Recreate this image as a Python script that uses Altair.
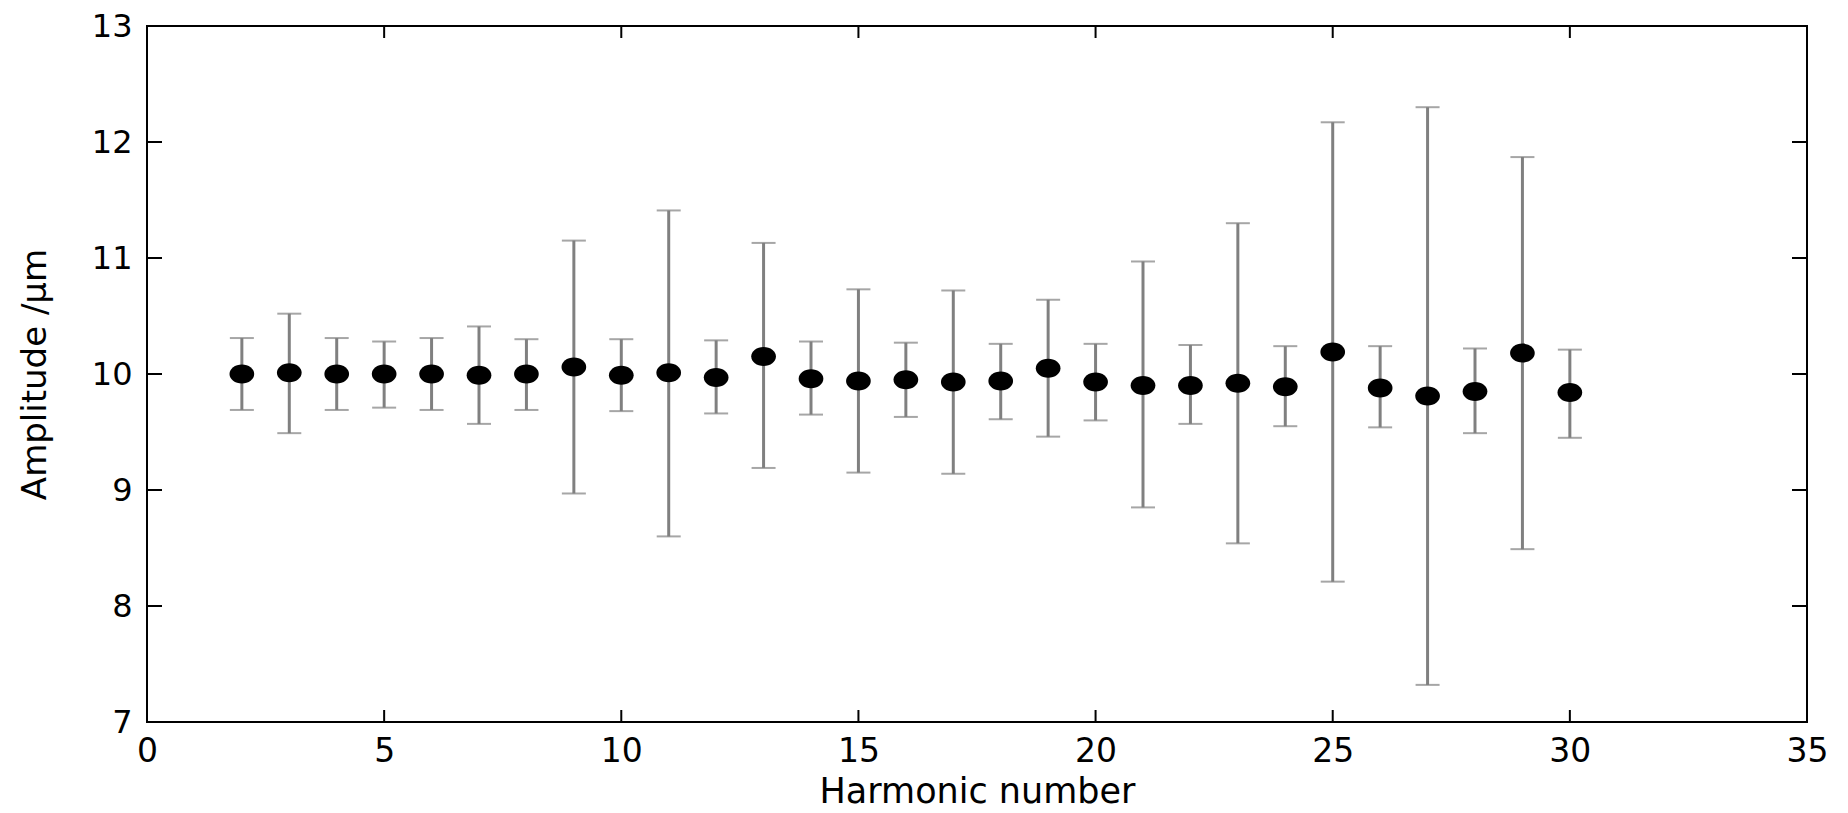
import altair as alt
import pandas as pd

harmonic = list(range(2, 31))
amplitude = [10.00, 10.01, 10.00, 10.00, 10.00, 9.99, 10.00, 10.06, 9.99, 10.01,
             9.97, 10.15, 9.96, 9.94, 9.95, 9.93, 9.94, 10.05, 9.93, 9.90,
             9.90, 9.92, 9.89, 10.19, 9.88, 9.81, 9.85, 10.18, 9.84]
upper = [10.31, 10.52, 10.31, 10.28, 10.31, 10.41, 10.30, 11.15, 10.30, 11.41,
         10.29, 11.13, 10.28, 10.73, 10.27, 10.72, 10.26, 10.64, 10.26, 10.97,
         10.25, 11.30, 10.24, 12.17, 10.24, 12.30, 10.22, 11.87, 10.21]
lower = [9.69, 9.49, 9.69, 9.71, 9.69, 9.57, 9.69, 8.97, 9.68, 8.60,
         9.66, 9.19, 9.65, 9.15, 9.63, 9.14, 9.61, 9.46, 9.60, 8.85,
         9.57, 8.54, 9.55, 8.21, 9.54, 7.32, 9.49, 8.49, 9.45]
x_ticks = [0, 5, 10, 15, 20, 25, 30, 35]
y_ticks = [7, 8, 9, 10, 11, 12, 13]

W, H = 1660, 696
FONT = "DejaVu Sans"

df = pd.DataFrame({"h": harmonic, "amp": amplitude, "hi": upper, "lo": lower})
xt = pd.DataFrame({"h": x_ticks})
yt = pd.DataFrame({"amp": y_ticks})

xscale = alt.Scale(domain=[0, 35], nice=False, zero=False)
yscale = alt.Scale(domain=[7, 13], nice=False, zero=False)

x_axis = alt.Axis(values=x_ticks, title="Harmonic number", grid=False, domain=False,
                  ticks=False, tickSize=0, labelFont=FONT, labelFontSize=33,
                  labelColor="black", labelPadding=39, labelBaseline="alphabetic",
                  labelFlush=False, labelOverlap=False, format="d",
                  titleFont=FONT, titleFontSize=35, titleFontWeight="normal",
                  titleColor="black", titleBaseline="alphabetic", titleY=80,
                  titleX=W / 2, titleAlign="center")
y_axis = alt.Axis(values=y_ticks, title="Amplitude /μm", grid=False, domain=False,
                  ticks=False, tickSize=0, labelFont=FONT, labelFontSize=32,
                  labelColor="black", labelPadding=15, labelFlush=False,
                  labelOverlap=False, format="d",
                  titleFont=FONT, titleFontSize=34, titleFontWeight="normal",
                  titleColor="black", titleAngle=270, titleX=-112, titleY=H / 2,
                  titleAlign="center", titleBaseline="middle")

X = lambda f: alt.X(f, scale=xscale, axis=x_axis, title="Harmonic number")
Y = lambda f: alt.Y(f, scale=yscale, axis=y_axis, title="Amplitude /μm")

base = alt.Chart(df)

bars = base.mark_rule(color="#808080", strokeWidth=3).encode(
    x=X("h:Q"), y=Y("lo:Q"), y2="hi:Q",
)
cap_hi = base.mark_tick(color="#808080", orient="horizontal", size=24, thickness=2).encode(
    x=X("h:Q"), y=Y("hi:Q"),
)
cap_lo = base.mark_tick(color="#808080", orient="horizontal", size=24, thickness=2).encode(
    x=X("h:Q"), y=Y("lo:Q"),
)
ellipse = "M-1.3,0A1.3,1,0,1,1,1.3,0A1.3,1,0,1,1,-1.3,0Z"
points = base.mark_point(filled=True, shape=ellipse, size=361, color="black", opacity=1).encode(
    x=X("h:Q"), y=Y("amp:Q"),
)

xt_bottom = alt.Chart(xt).mark_rule(color="black", strokeWidth=2).encode(
    x=X("h:Q"), y=alt.value(H), y2=alt.value(H - 12))
xt_top = alt.Chart(xt).mark_rule(color="black", strokeWidth=2).encode(
    x=X("h:Q"), y=alt.value(0), y2=alt.value(12))
yt_left = alt.Chart(yt).mark_rule(color="black", strokeWidth=2).encode(
    y=Y("amp:Q"), x=alt.value(0), x2=alt.value(15))
yt_right = alt.Chart(yt).mark_rule(color="black", strokeWidth=2).encode(
    y=Y("amp:Q"), x=alt.value(W), x2=alt.value(W - 15))

chart = alt.layer(bars, cap_hi, cap_lo, points, xt_bottom, xt_top, yt_left, yt_right).properties(
    width=W, height=H,
    padding={"left": 139, "top": 18, "right": 33, "bottom": 90},
    autosize=alt.AutoSizeParams(type="none"),
    background="white",
).configure_view(stroke="black", strokeWidth=2)

chart.save("out.html", embed_options={"renderer": "svg", "actions": False})
